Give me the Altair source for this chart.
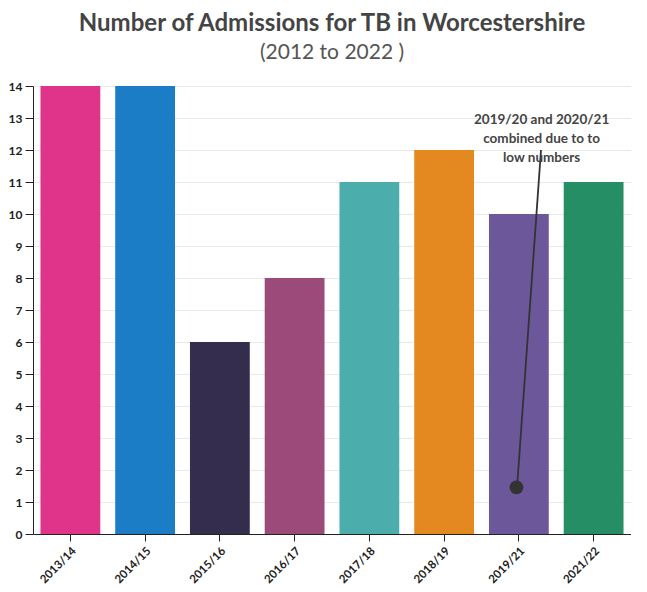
import altair as alt
import pandas as pd

years = ["2013/14", "2014/15", "2015/16", "2016/17", "2017/18", "2018/19", "2019/21", "2021/22"]
admissions = [14, 14, 6, 8, 11, 12, 10, 11]
colors = ["#E0338A", "#1B7DC6", "#352D4E", "#9B4A7A", "#4BAEAD", "#E3891F", "#6C579B", "#258E64"]

# annotation on the 2019/21 bar
note_year = "2019/21"
note_text = ["2019/20 and 2020/21", "combined due to to", "low numbers"]
note_y = 12.93
line_top_y = 12.0
line_bottom_y = 1.46
dot_y = 1.46

bars_df = pd.DataFrame({"year": years, "value": admissions})
note_df = pd.DataFrame({
    "year": [note_year], "year2": [note_year],
    "ty": [note_y], "y1": [line_top_y], "y2": [line_bottom_y], "dy": [dot_y],
    "label": ["\n".join(note_text)],
})

FONT = "Lato"

x_scale = alt.Scale(domain=years, paddingInner=0.2, paddingOuter=0.1)
x_axis = alt.Axis(labelAngle=-45, labelFontWeight="bold", labelFontSize=11.5,
                  labelColor="#222", domainColor="#222", tickColor="#222",
                  tickSize=7, labelPadding=4, grid=False)
y_scale = alt.Scale(domain=[0, 14], nice=False)
y_axis = alt.Axis(values=list(range(0, 15)), labelFontWeight="bold", labelFontSize=12,
                  labelColor="#222", domainColor="#222", tickColor="#222",
                  gridColor="#e8e8e8", tickSize=8, labelPadding=3)


def x_enc(field, band=0.5):
    return alt.X(field, scale=x_scale, axis=x_axis, title=None, bandPosition=band)


def y_enc(field):
    return alt.Y(field, scale=y_scale, title=None, axis=y_axis)


bars = alt.Chart(bars_df).mark_bar().encode(
    x=alt.X("year:N", scale=x_scale, axis=x_axis, title=None),
    y=y_enc("value:Q"),
    color=alt.Color("year:N", scale=alt.Scale(domain=years, range=colors), legend=None),
)

rule = alt.Chart(note_df).mark_rule(color="#333333", strokeWidth=1.8).encode(
    x=x_enc("year:N", 0.87),
    x2=alt.X2("year2:N", bandPosition=0.47),
    y=y_enc("y1:Q"),
    y2=alt.Y2("y2:Q"),
)

dot = alt.Chart(note_df).mark_circle(color="#333333", opacity=1, size=190).encode(
    x=x_enc("year:N", 0.46),
    y=y_enc("dy:Q"),
)

text = alt.Chart(note_df).mark_text(font=FONT, fontSize=13.5, fontWeight="bold", color="#444",
                                    lineBreak="\n", lineHeight=19, align="center",
                                    baseline="middle").encode(
    x=x_enc("year:N", 0.88),
    y=y_enc("ty:Q"),
    text="label:N",
)

chart = alt.layer(bars, rule, dot, text).properties(
    width=598,
    height=448,
    padding={"left": 0, "top": 4, "right": 0, "bottom": 0},
    title=alt.TitleParams(
        text="Number of Admissions for TB in Worcestershire",
        subtitle="(2012 to 2022 )",
        fontSize=24, fontWeight="bold", color="#444", font=FONT,
        subtitleFontSize=21, subtitleColor="#555", subtitleFont=FONT, subtitlePadding=6,
        subtitleFontWeight="normal",
        anchor="middle", offset=17,
    ),
).configure(font=FONT).configure_view(strokeWidth=0, stroke="transparent")

chart.save("out.html", embed_options={"renderer": "svg", "actions": False})
